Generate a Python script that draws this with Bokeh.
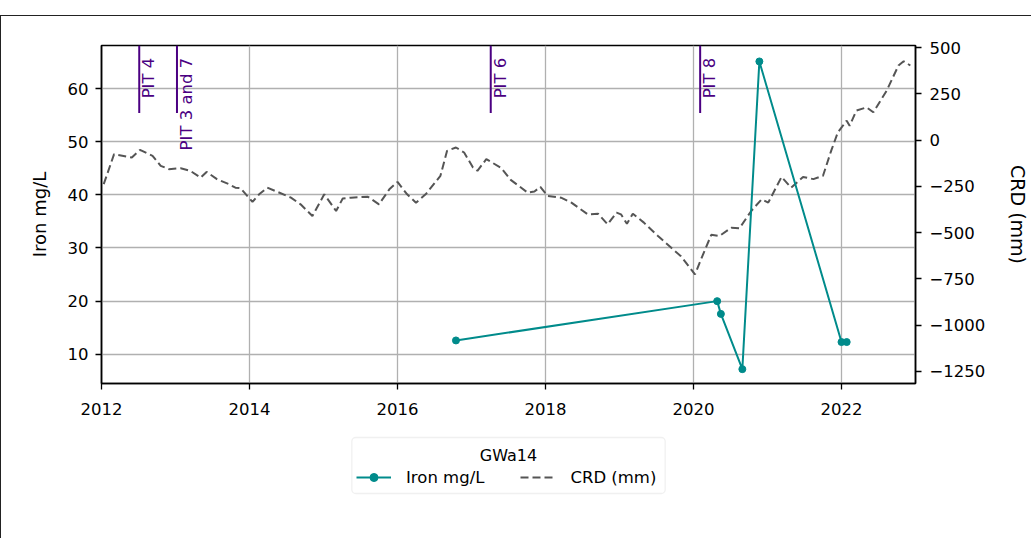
import numpy as np
from bokeh.plotting import figure
from bokeh.layouts import column
from bokeh.models import (Range1d, LinearAxis, FixedTicker, Legend, LegendItem, Label,
                          BoxAnnotation)
from bokeh.embed import file_html
from bokeh.resources import INLINE

# ---- data ----
x_ticks = [2012, 2014, 2016, 2018, 2020, 2022]
left_ticks = [10, 20, 30, 40, 50, 60]
right_ticks = [500, 250, 0, -250, -500, -750, -1000, -1250]

iron_t = [2016.79, 2020.32, 2020.37, 2020.66, 2020.89, 2022.00, 2022.07]
iron_v = [12.6, 20.0, 17.6, 7.2, 65.1, 12.3, 12.3]

crd_t = [2012.03, 2012.17, 2012.41, 2012.52, 2012.69, 2012.80, 2012.91, 2013.07,
         2013.20, 2013.34, 2013.42, 2013.56, 2013.72, 2013.81, 2013.88, 2014.04,
         2014.13, 2014.24, 2014.38, 2014.56, 2014.69, 2014.85, 2015.01, 2015.17,
         2015.26, 2015.37, 2015.60, 2015.75, 2015.89, 2016.00, 2016.13, 2016.25,
         2016.38, 2016.58, 2016.67, 2016.79, 2016.90, 2017.02, 2017.08, 2017.20,
         2017.40, 2017.53, 2017.76, 2017.85, 2017.93, 2018.03, 2018.21, 2018.35,
         2018.57, 2018.71, 2018.84, 2018.96, 2019.02, 2019.10, 2019.18, 2019.33,
         2019.52, 2019.70, 2019.83, 2020.02, 2020.11, 2020.24, 2020.35, 2020.51,
         2020.62, 2020.78, 2020.92, 2021.01, 2021.19, 2021.32, 2021.48, 2021.62,
         2021.75, 2021.86, 2021.95, 2022.07, 2022.11, 2022.20, 2022.34, 2022.43,
         2022.61, 2022.77, 2022.84, 2022.93]
crd_v = [-238, -76, -94, -53, -85, -139, -157, -152,
         -166, -203, -172, -211, -238, -257, -260, -334,
         -293, -257, -280, -311, -347, -410, -293, -383,
         -316, -311, -306, -347, -266, -226, -293, -338,
         -293, -193, -58, -40, -67, -148, -166, -103,
         -150, -215, -284, -278, -253, -302, -311, -338,
         -401, -398, -455, -392, -401, -452, -398, -446,
         -518, -582, -627, -726, -636, -512, -518, -474,
         -477, -383, -320, -338, -199, -257, -199, -211,
         -193, -58, 41, 105, 77, 159, 177, 150,
         267, 403, 426, 403]

pit_t = [2012.51, 2013.02, 2017.26, 2020.09]
pit_labels = ["PIT 4", "PIT 3 and 7", "PIT 6", "PIT 8"]

legend_title = "GWa14"
series_names = ["Iron mg/L", "CRD (mm)"]

# ---- style ----
FONT = "DejaVu Sans"
IRON_C = "#008b8b"
CRD_C = "#555555"
PIT_C = "#4b0082"
EDGE = "1px solid #222222"

y_lo, y_hi = 4.5, 68.1

p = figure(frame_width=813, frame_height=337, output_backend="svg", toolbar_location=None,
           x_range=Range1d(2012, 2023), y_range=Range1d(y_lo, y_hi),
           min_border_left=100, min_border_right=117, min_border_top=29, min_border_bottom=43,
           styles={"margin-top": "15px", "border-top": EDGE, "border-left": EDGE})
p.outline_line_color = "black"
p.outline_line_width = 1.5
p.background_fill_color = "white"
p.border_fill_color = "white"

p.extra_y_ranges = {"crd": Range1d(-1315, 511)}

def style_axis(ax):
    ax.axis_line_color = "black"
    ax.axis_line_width = 1.5
    ax.major_tick_line_color = "black"
    ax.major_tick_line_width = 1.3
    ax.major_tick_out = 6
    ax.major_tick_in = 0
    ax.minor_tick_line_color = None
    ax.major_label_text_font = FONT
    ax.major_label_text_font_size = "16.5px"
    ax.major_label_text_color = "black"
    ax.axis_label_text_font = FONT
    ax.axis_label_text_font_style = "normal"
    ax.axis_label_text_color = "black"

xa = p.xaxis[0]
xa.ticker = FixedTicker(ticks=x_ticks)
style_axis(xa)
xa.major_label_standoff = 13

ya = p.yaxis[0]
ya.ticker = FixedTicker(ticks=left_ticks)
style_axis(ya)
ya.axis_label = series_names[0]
ya.axis_label_text_font_size = "18px"
ya.major_label_standoff = 7
ya.axis_label_standoff = 15

ra = LinearAxis(y_range_name="crd", ticker=FixedTicker(ticks=right_ticks))
style_axis(ra)
ra.axis_label = series_names[1]
ra.axis_label_text_font_size = "19px"
ra.major_label_standoff = 8
ra.axis_label_standoff = 19
ra.major_label_overrides = {t: (("\u2212" + str(abs(t))) if t < 0 else str(t)) for t in right_ticks}
p.add_layout(ra, "right")

p.xgrid.ticker = FixedTicker(ticks=x_ticks)
p.ygrid.ticker = FixedTicker(ticks=left_ticks)
for g in (p.xgrid[0], p.ygrid[0]):
    g.grid_line_color = "#b0b0b0"
    g.grid_line_width = 1.3

# PIT markers
p.segment(x0=pit_t, y0=[y_lo + 0.8 * (y_hi - y_lo)] * len(pit_t), x1=pit_t, y1=[y_hi] * len(pit_t),
          line_color=PIT_C, line_width=2)
for t, lbl in zip(pit_t, pit_labels):
    p.add_layout(Label(x=t, y=65.8, text=lbl, angle=np.pi / 2, x_offset=0,
                       text_align="right", text_baseline="top", text_color=PIT_C,
                       text_font=FONT, text_font_size="16.5px"))

CRD_STYLE = dict(line_color=CRD_C, line_width=2, line_dash="8 4")
IRON_LINE = dict(line_color=IRON_C, line_width=2)
IRON_DOT = dict(size=7, color=IRON_C)

p.line(crd_t, crd_v, y_range_name="crd", **CRD_STYLE)
p.line(iron_t, iron_v, **IRON_LINE)
p.scatter(iron_t, iron_v, **IRON_DOT)

# ---- legend strip below (ranges map to page pixels) ----
p2 = figure(frame_width=813, frame_height=113, output_backend="svg", toolbar_location=None,
            x_range=Range1d(101, 914), y_range=Range1d(538, 425),
            x_axis_type=None, y_axis_type=None,
            min_border_left=100, min_border_right=117, min_border_top=0, min_border_bottom=0,
            styles={"border-left": EDGE})
p2.grid.visible = False
p2.outline_line_color = None
p2.background_fill_color = "white"
p2.border_fill_color = "white"

box = BoxAnnotation(left=351, right=664, top=437, bottom=493,
                    fill_color="white", fill_alpha=0.8,
                    line_color="#cccccc", line_width=1.3)
if "border_radius" in BoxAnnotation.properties():
    box.border_radius = 4
p2.add_layout(box)

# legend-only renderers (NaN data: nothing drawn, only their legend glyphs)
l_iron = p2.line([np.nan], [np.nan], **IRON_LINE)
d_iron = p2.scatter([np.nan], [np.nan], **IRON_DOT)
l_crd = p2.line([np.nan], [np.nan], **CRD_STYLE)

legend = Legend(items=[LegendItem(label=series_names[0], renderers=[l_iron, d_iron]),
                       LegendItem(label=series_names[1], renderers=[l_crd])],
                orientation="horizontal", location=(255, 51))
legend.label_text_font = FONT
legend.label_text_font_size = "16.5px"
legend.label_text_color = "black"
legend.border_line_color = None
legend.background_fill_alpha = 0
legend.glyph_width = 35
legend.label_standoff = 15
legend.spacing = 36
legend.margin = 0
legend.padding = 0
p2.add_layout(legend)

p2.add_layout(Label(x=507.5, y=455, text=legend_title, text_align="center",
                    text_baseline="middle", text_font=FONT, text_font_size="16px",
                    text_color="black"))

layout = column(p, p2, spacing=0)
open("out.html", "w").write(file_html(layout, INLINE))
